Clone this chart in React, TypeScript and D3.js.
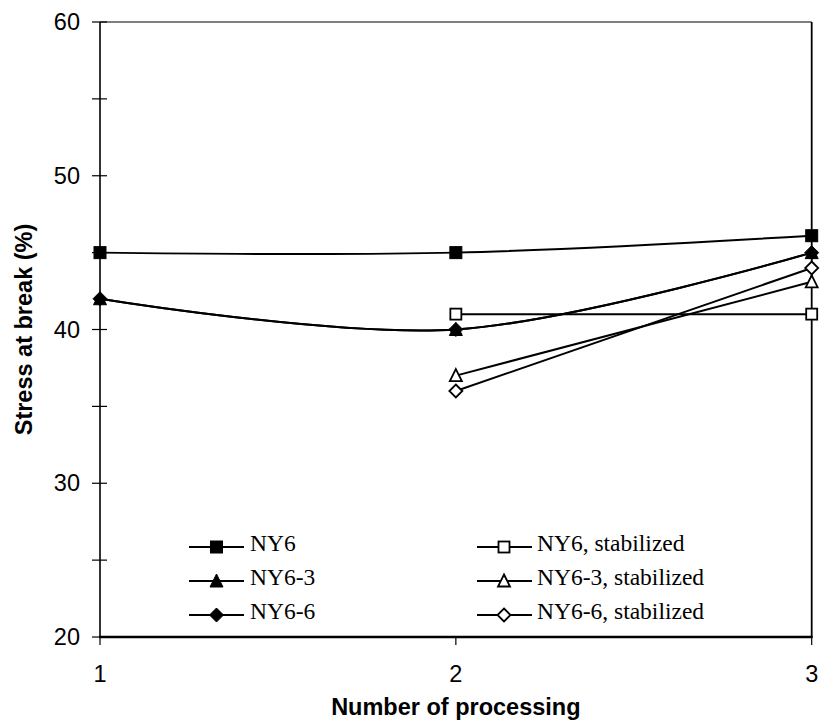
import React from "react";
import * as d3 from "d3";

const X_VALUES = [1, 2, 3];
const X_TICKS = [1, 2, 3];
const Y_MAJOR = [20, 30, 40, 50, 60];
const Y_MINOR = [25, 35, 45, 55];

const NY6 = [45, 45, 46.1];
const NY6_3 = [42, 40, 45];
const NY6_6 = [42, 40, 45];
const NY6_S = [null, 41, 41];
const NY6_3_S = [null, 37, 43.1];
const NY6_6_S = [null, 36, 44];

type Marker = "square" | "triangle" | "diamond";
const SERIES: { name: string; values: (number | null)[]; marker: Marker; filled: boolean; smooth: boolean }[] = [
  { name: "NY6", values: NY6, marker: "square", filled: true, smooth: true },
  { name: "NY6-3", values: NY6_3, marker: "triangle", filled: true, smooth: true },
  { name: "NY6-6", values: NY6_6, marker: "diamond", filled: true, smooth: true },
  { name: "NY6, stabilized", values: NY6_S, marker: "square", filled: false, smooth: false },
  { name: "NY6-3, stabilized", values: NY6_3_S, marker: "triangle", filled: false, smooth: false },
  { name: "NY6-6, stabilized", values: NY6_6_S, marker: "diamond", filled: false, smooth: false },
];

const W = 820;
const H = 726;
const LEFT = 100;
const RIGHT = 811.7;
const TOP = 22;
const BOTTOM = 637;

const SANS = "'Liberation Sans', Arial, Helvetica, sans-serif";
const SERIF = "'Liberation Serif', 'Times New Roman', serif";

function MarkerShape({ type, filled, cx, cy }: { type: Marker; filled: boolean; cx: number; cy: number }) {
  const fill = filled ? "#000" : "#fff";
  const stroke = "#000";
  const sw = filled ? 1 : 1.8;
  if (type === "square") {
    const s = filled ? 12 : 11;
    return <rect x={cx - s / 2} y={cy - s / 2} width={s} height={s} fill={fill} stroke={stroke} strokeWidth={sw} />;
  }
  if (type === "triangle") {
    const w = filled ? 13 : 12;
    const h = filled ? 12 : 11;
    const p = `${cx},${cy - h / 2 - 1} ${cx + w / 2},${cy + h / 2} ${cx - w / 2},${cy + h / 2}`;
    return <polygon points={p} fill={fill} stroke={stroke} strokeWidth={sw} strokeLinejoin="miter" />;
  }
  const r = filled ? 7 : 6.5;
  const p = `${cx},${cy - r} ${cx + r},${cy} ${cx},${cy + r} ${cx - r},${cy}`;
  return <polygon points={p} fill={fill} stroke={stroke} strokeWidth={sw} />;
}

export default function App() {
  const x = d3.scaleLinear().domain([1, 3]).range([LEFT, RIGHT]);
  const y = d3.scaleLinear().domain([20, 60]).range([BOTTOM, TOP]);

  const legendRows = [547, 581, 615];
  const legendCols = [
    { x1: 189, x2: 244, mx: 216.5, tx: 250 },
    { x1: 477, x2: 532, mx: 504, tx: 537 },
  ];

  return (
    <svg width={W} height={H} style={{ position: "absolute", left: 0, top: 0, background: "#fff" }}>
      <rect x={0} y={0} width={W} height={H} fill="#fff" />
      {/* frame */}
      <line x1={LEFT} x2={RIGHT} y1={TOP} y2={TOP} stroke="#000" strokeWidth={1.2} />
      <line x1={RIGHT} x2={RIGHT} y1={TOP} y2={BOTTOM} stroke="#000" strokeWidth={1.8} />
      <line x1={LEFT} x2={LEFT} y1={TOP} y2={BOTTOM} stroke="#000" strokeWidth={1.6} />
      <line x1={LEFT - 1} x2={RIGHT + 1} y1={BOTTOM} y2={BOTTOM} stroke="#000" strokeWidth={2.4} />

      {/* y ticks */}
      {[...Y_MAJOR, ...Y_MINOR].map((v) => (
        <line key={"yt" + v} x1={LEFT - 8} x2={LEFT + 7} y1={y(v)} y2={y(v)} stroke="#000" strokeWidth={1.2} />
      ))}
      {Y_MAJOR.map((v) => (
        <text key={"yl" + v} x={80} y={y(v) + 8} textAnchor="end" fontFamily={SANS} fontSize={23.5} fill="#000">
          {v}
        </text>
      ))}

      {/* x ticks */}
      {X_TICKS.map((v) => (
        <g key={"xt" + v}>
          <line x1={x(v)} x2={x(v)} y1={BOTTOM} y2={BOTTOM + 8} stroke="#000" strokeWidth={1.2} />
          <text x={x(v)} y={682} textAnchor="middle" fontFamily={SANS} fontSize={23.5} fill="#000">
            {v}
          </text>
        </g>
      ))}

      {/* axis titles */}
      <text x={x(2)} y={715} textAnchor="middle" fontFamily={SANS} fontWeight="bold" fontSize={23.5} fill="#000">
        Number of processing
      </text>
      <text
        transform={`translate(32, ${(TOP + BOTTOM) / 2}) rotate(-90)`}
        textAnchor="middle"
        fontFamily={SANS}
        fontWeight="bold"
        fontSize={23.5}
        fill="#000"
      >
        Stress at break (%)
      </text>

      {/* series lines */}
      {SERIES.map((s) => {
        const pts = X_VALUES.map((xv, i) => [xv, s.values[i]] as [number, number | null]).filter(
          (p) => p[1] !== null
        ) as [number, number][];
        const gen = d3
          .line<[number, number]>()
          .x((d) => x(d[0]))
          .y((d) => y(d[1]))
          .curve(s.smooth ? d3.curveCardinal.tension(0) : d3.curveLinear);
        return <path key={"l" + s.name} d={gen(pts) || ""} fill="none" stroke="#000" strokeWidth={2} />;
      })}

      {/* markers */}
      {SERIES.map((s) =>
        X_VALUES.map((xv, i) =>
          s.values[i] === null ? null : (
            <MarkerShape key={s.name + i} type={s.marker} filled={s.filled} cx={x(xv)} cy={y(s.values[i] as number)} />
          )
        )
      )}

      {/* legend */}
      {SERIES.map((s, i) => {
        const col = legendCols[Math.floor(i / 3)];
        const ry = legendRows[i % 3];
        return (
          <g key={"lg" + s.name}>
            <line x1={col.x1} x2={col.x2} y1={ry} y2={ry} stroke="#000" strokeWidth={1.8} />
            <MarkerShape type={s.marker} filled={s.filled} cx={col.mx} cy={ry} />
            <text x={col.tx} y={ry + 4} fontFamily={SERIF} fontSize={23.5} fill="#000">
              {s.name}
            </text>
          </g>
        );
      })}
    </svg>
  );
}
